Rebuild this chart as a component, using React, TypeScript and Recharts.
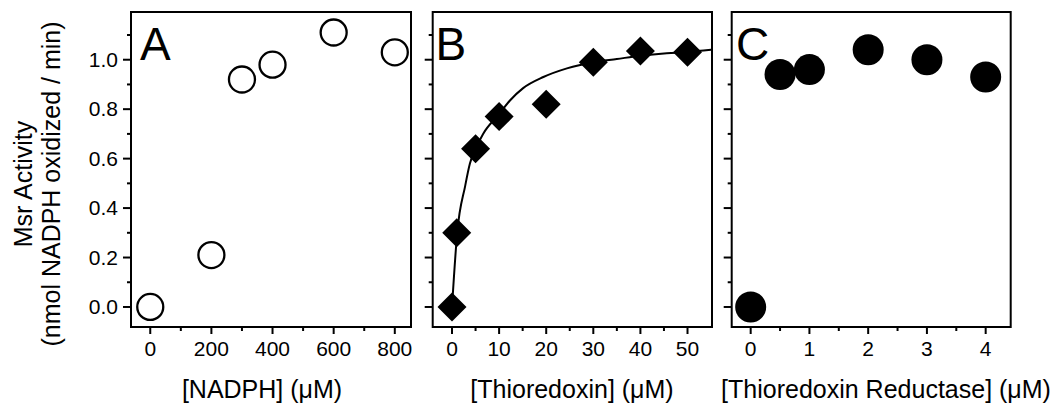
import { ScatterChart, Scatter, XAxis, YAxis, ReferenceArea, Label } from 'recharts';

const FONT = '"Liberation Sans", Arial, Helvetica, sans-serif';

// A: NADPH titration
const nadphX = [0, 200, 300, 400, 600, 800];
const nadphY = [0.0, 0.21, 0.92, 0.98, 1.11, 1.03];

// B: thioredoxin titration + fitted curve
const trxX = [0, 1, 5, 10, 20, 30, 40, 50];
const trxY = [0.0, 0.3, 0.64, 0.77, 0.82, 0.99, 1.035, 1.03];
const fitX = [0, 1.1, 2.8, 3.8, 5, 6.6, 10, 12.3, 15.1, 19.4, 24.4, 30, 35, 40, 45.6, 50, 55];
const fitY = [0.0, 0.3, 0.49, 0.58, 0.64, 0.7, 0.78, 0.835, 0.885, 0.93, 0.965, 0.99, 1.003, 1.016, 1.026, 1.031, 1.04];

// C: thioredoxin reductase titration
const trrX = [0, 0.5, 1, 2, 3, 4];
const trrY = [0.0, 0.94, 0.96, 1.04, 1.0, 0.93];

const yTicks = [0, 0.1, 0.2, 0.3, 0.4, 0.5, 0.6, 0.7, 0.8, 0.9, 1.0, 1.1];
const yDomain: [number, number] = [-0.081, 1.193];

const xTicksA = [0, 100, 200, 300, 400, 500, 600, 700, 800];
const xTicksB = [0, 5, 10, 15, 20, 25, 30, 35, 40, 45, 50];
const xTicksC = [0, 0.5, 1, 1.5, 2, 2.5, 3, 3.5, 4];

const toPoints = (xs: number[], ys: number[]) => xs.map((x, i) => ({ x, y: ys[i] }));

const isMultiple = (v: number, step: number) => Math.abs(v / step - Math.round(v / step)) < 1e-6;

function XTick({ x, y, payload, step }: any) {
  const v = payload.value;
  const major = isMultiple(v, step);
  return (
    <g>
      <line x1={x} y1={y} x2={x} y2={y + (major ? 7 : 4)} stroke="#000" strokeWidth={2} />
      {major && (
        <text x={x} y={y + 29} textAnchor="middle" fontSize={21} fontFamily={FONT} fill="#000">
          {v}
        </text>
      )}
    </g>
  );
}

function YTick({ x, y, payload, showLabels }: any) {
  const v = payload.value;
  const major = isMultiple(v, 0.2) && v < 1.05;
  return (
    <g>
      <line x1={x - (major ? 8 : 4)} y1={y} x2={x} y2={y} stroke="#000" strokeWidth={2} />
      {major && showLabels && (
        <text x={x - 13} y={y + 7} textAnchor="end" fontSize={21} fontFamily={FONT} fill="#000">
          {v.toFixed(1)}
        </text>
      )}
    </g>
  );
}

const circleOpen = (p: any) => <circle cx={p.cx} cy={p.cy} r={13} fill="#fff" stroke="#000" strokeWidth={2.3} />;
const circleFilled = (p: any) => <circle cx={p.cx} cy={p.cy} r={15.5} fill="#000" />;
const diamond = (p: any) => (
  <polygon
    points={`${p.cx},${p.cy - 14.5} ${p.cx + 14.5},${p.cy} ${p.cx},${p.cy + 14.5} ${p.cx - 14.5},${p.cy}`}
    fill="#000"
  />
);
const noShape = () => <g />;

interface PanelProps {
  left: number;
  right: number;
  xDomain: [number, number];
  xTicks: number[];
  step: number;
  letter: string;
  letterX: number;
  title: string;
  titleX: number;
  showYLabels?: boolean;
  children: any;
}

const TOP = 12;
const BOTTOM = 327;
const Y_AXIS_W = 30;

function Panel({ left, right, xDomain, xTicks, step, letter, letterX, title, titleX, showYLabels, children }: PanelProps) {
  return (
    <div style={{ position: 'absolute', left: 0, top: 0 }}>
      <ScatterChart
        width={1060}
        height={405}
        margin={{ top: TOP, right: 1060 - right, bottom: 0, left: left - Y_AXIS_W }}
      >
        <XAxis
          type="number"
          dataKey="x"
          domain={xDomain}
          allowDataOverflow
          ticks={xTicks}
          interval={0}
          height={405 - BOTTOM}
          axisLine={false}
          tickLine={false}
          tickSize={0}
          tickMargin={0}
          tick={(p: any) => <XTick {...p} step={step} />}
          label={
            <Label
              content={() => (
                <text x={titleX} y={398} textAnchor="middle" fontSize={25} fontFamily={FONT} fill="#000">
                  {title}
                </text>
              )}
            />
          }
        />
        <YAxis
          type="number"
          dataKey="y"
          domain={yDomain}
          allowDataOverflow
          ticks={yTicks}
          interval={0}
          width={Y_AXIS_W}
          axisLine={false}
          tickLine={false}
          tickSize={0}
          tickMargin={0}
          tick={(p: any) => <YTick {...p} showLabels={showYLabels} />}
          label={
            showYLabels ? (
              <Label
                content={() => (
                  <g fontFamily={FONT} fontSize={25} fill="#000">
                    <text x={32} y={184} textAnchor="middle" transform="rotate(-90 32 184)">
                      Msr Activity
                    </text>
                    <text x={60} y={184} textAnchor="middle" transform="rotate(-90 60 184)">
                      (nmol NADPH oxidized / min)
                    </text>
                  </g>
                )}
              />
            ) : undefined
          }
        />
        {children}
        <ReferenceArea
          x1={xDomain[0]}
          x2={xDomain[1]}
          y1={yDomain[0]}
          y2={yDomain[1]}
          fill="none"
          stroke="#000"
          strokeWidth={2}
          ifOverflow="visible"
          label={
            <Label
              content={() => (
                <text x={letterX} y={60} fontSize={46} fontFamily={FONT} fill="#000">
                  {letter}
                </text>
              )}
            />
          }
        />
      </ScatterChart>
    </div>
  );
}

export default function App() {
  return (
    <div style={{ position: 'absolute', left: 0, top: 0, width: 1060, height: 405, background: '#fff' }}>
      <Panel
        left={131}
        right={411}
        xDomain={[-63, 853]}
        xTicks={xTicksA}
        step={200}
        letter="A"
        letterX={140}
        title="[NADPH] (μM)"
        titleX={262}
        showYLabels
      >
        <Scatter data={toPoints(nadphX, nadphY)} shape={circleOpen} isAnimationActive={false} />
      </Panel>
      <Panel
        left={432.7}
        right={712}
        xDomain={[-4.1, 55.2]}
        xTicks={xTicksB}
        step={10}
        letter="B"
        letterX={435.5}
        title="[Thioredoxin] (μM)"
        titleX={572}
      >
        <Scatter
          data={toPoints(fitX, fitY)}
          line={{ stroke: '#000', strokeWidth: 2 }}
          lineJointType="monotoneX"
          shape={noShape}
          isAnimationActive={false}
        />
        <Scatter data={toPoints(trxX, trxY)} shape={diamond} isAnimationActive={false} />
      </Panel>
      <Panel
        left={731.7}
        right={1010.7}
        xDomain={[-0.323, 4.426]}
        xTicks={xTicksC}
        step={1}
        letter="C"
        letterX={736}
        title="[Thioredoxin Reductase] (μM)"
        titleX={886}
      >
        <Scatter data={toPoints(trrX, trrY)} shape={circleFilled} isAnimationActive={false} />
      </Panel>
    </div>
  );
}
